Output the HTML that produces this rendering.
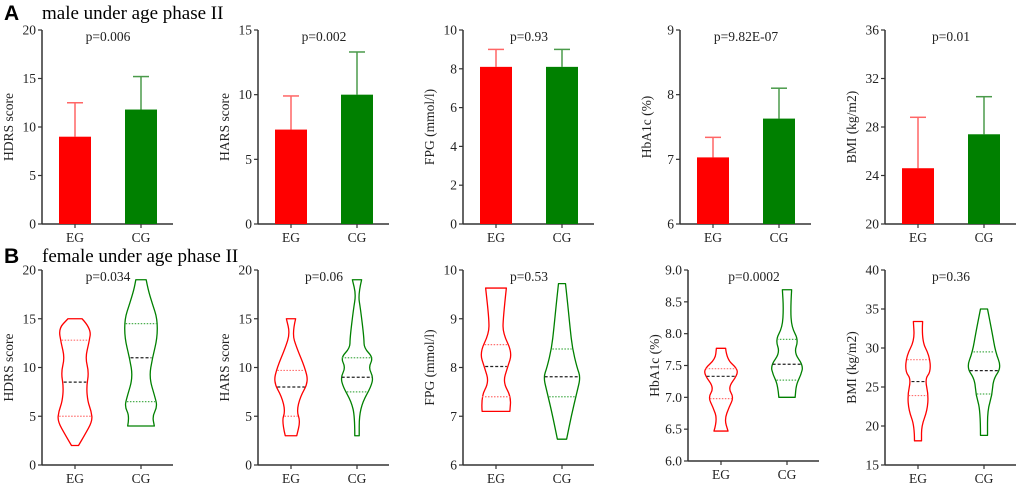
<!DOCTYPE html>
<html><head><meta charset="utf-8"><style>
body{margin:0;background:#fff}
svg{display:block}
svg text{font-family:"Liberation Serif",serif}
</style></head><body>
<svg id="fig" width="1020" height="486" viewBox="0 0 1020 486">
<text x="4" y="20" style="font-family:'Liberation Sans',sans-serif" font-weight="bold" font-size="21">A</text>
<text x="42" y="19" font-size="19">male under age phase II</text>
<text x="4" y="263" style="font-family:'Liberation Sans',sans-serif" font-weight="bold" font-size="21">B</text>
<text x="42" y="262" font-size="19">female under age phase II</text>
</svg>
<script>
const groups=["EG","CG"];
const barTitles=["HDRS score","HARS score","FPG (mmol/l)","HbA1c (%)","BMI (kg/m2)"];
const barP=["p=0.006","p=0.002","p=0.93","p=9.82E-07","p=0.01"];
const barMeans=[[9.0,11.8],[7.3,10.0],[8.1,8.1],[7.03,7.63],[24.6,27.4]];
const barErr=[[12.5,15.2],[9.9,13.3],[9.0,9.0],[7.34,8.1],[28.8,30.5]];
const barTicks=[[0,5,10,15,20],[0,5,10,15],[0,2,4,6,8,10],[6,7,8,9],[20,24,28,32,36]];
const vioTitles=["HDRS score","HARS score","FPG (mmol/l)","HbA1c (%)","BMI (kg/m2)"];
const vioP=["p=0.034","p=0.06","p=0.53","p=0.0002","p=0.36"];
const vioTicks=[[0,5,10,15,20],[0,5,10,15,20],[6,7,8,9,10],["6.0","6.5","7.0","7.5","8.0","8.5","9.0"],[15,20,25,30,35,40]];
// violin profiles: [value, relative density]
const vioEG=[
[[15,.38],[14,.88],[12.5,.75],[11,.56],[9.5,.75],[8,.62],[6.5,.69],[5.5,.88],[4.5,.94],[3,.5],[2,.19]],
[[15,.25],[13.5,.06],[12,.31],[10,.75],[8.5,.94],[7,.5],[5.5,.31],[4.5,.5],[3,.31]],
[[9.63,.56],[9,.38],[8.7,.38],[8.3,.88],[8,.62],[7.7,.38],[7.4,.81],[7.1,.75]],
[[7.77,.25],[7.6,.31],[7.45,.88],[7.35,.88],[7.15,.38],[7.0,.69],[6.85,.44],[6.65,.19],[6.47,.38]],
[[33.4,.25],[31,.19],[29,.62],[27,.69],[26,.38],[24,.56],[22,.5],[20,.19],[18.1,.19]]];
const vioCG=[
[[19,.28],[18,.38],[16.5,.62],[15,.88],[13,.88],[11,.62],[9,.44],[7,.75],[6,.88],[5,.62],[4,.72]],
[[19,.25],[17.5,.06],[16,.19],[13,.38],[12,.38],[11,.88],[10,.62],[9,.88],[8,.75],[6.5,.31],[5,.12],[3,.12]],
[[9.72,.19],[9.3,.31],[8.8,.44],[8.4,.56],[8,.81],[7.8,1],[7.5,.81],[7,.5],[6.53,.25]],
[[8.69,.25],[8.4,.19],[8.1,.25],[7.9,.62],[7.7,.38],[7.5,.88],[7.35,.75],[7.2,.5],[7.0,.44]],
[[35,.19],[32,.44],[29.5,.62],[27.5,.94],[26,.5],[24,.44],[22,.19],[18.8,.19]]];
const vioQ=[[[12.8,8.5,5],[14.5,11,6.5]],[[9.7,8,5],[11,9,7.5]],[[8.47,8.02,7.4],[8.38,7.81,7.4]],[[7.45,7.33,6.98],[7.91,7.52,7.27]],[[28.5,25.7,23.9],[29.5,27.1,24.1]]];

const NS="http://www.w3.org/2000/svg";
const svg=document.getElementById('fig');
function mk(tag,attrs,parent){const e=document.createElementNS(NS,tag);for(const k in attrs)e.setAttribute(k,attrs[k]);(parent||svg).appendChild(e);return e;}
const axisXTop=[42,258,463,680,885];
const axisXBot=[42,258,463,688,885];
const red="#ff0000",green="#008000",redL="#ff6666",greenL="#4a9a4a";
function axes(g,ax,top,bot,ticks,title,p){
  const lo=+ticks[0],hi=+ticks[ticks.length-1];
  const y=v=>bot-(v-lo)/(hi-lo)*(bot-top);
  const yl=mk('line',{x1:ax,y1:top,x2:ax,y2:bot,stroke:"#333","stroke-width":1.5},g);
  
  const xl=mk('line',{x1:ax,y1:bot,x2:ax+131,y2:bot,stroke:"#333","stroke-width":1.5},g);
  
  ticks.forEach(t=>{mk('line',{x1:ax-4,y1:y(+t),x2:ax,y2:y(+t),stroke:"#333","stroke-width":1.2},g);
    const tx=mk('text',{x:ax-6,y:y(+t)+4.5,"text-anchor":"end","font-size":13.5,fill:"#222"},g);tx.textContent=t;
    });
  groups.forEach((gname,i)=>{const cx=ax+33+66*i;
    mk('line',{x1:cx,y1:bot,x2:cx,y2:bot+4,stroke:"#333","stroke-width":1.2},g);
    const tx=mk('text',{x:cx,y:bot+18,"text-anchor":"middle","font-size":13.5,fill:"#222"},g);tx.textContent=gname;
    });
  const yt=mk('text',{x:0,y:0,"text-anchor":"middle","font-size":13.5,fill:"#222",transform:`translate(${ax-29},${(top+bot)/2}) rotate(-90)`},g);
  yt.textContent=title;
  const pt=mk('text',{x:ax+66,y:top+11,"text-anchor":"middle","font-size":13.5,fill:"#222"},g);
  pt.textContent=p;
  return y;
}
for(let k=0;k<5;k++){
  const g=mk('g',{});
  const ax=axisXTop[k];
  const y=axes(g,ax,30,224,barTicks[k],barTitles[k],barP[k]);
  groups.forEach((gn,i)=>{const cx=ax+33+66*i;const col=i?green:red;const lc=i?greenL:redL;
    const ym=y(barMeans[k][i]),ye=y(barErr[k][i]);
    const el=mk('line',{x1:cx,y1:ym,x2:cx,y2:ye,stroke:lc,"stroke-width":1.5},g);
    
    const cap=mk('line',{x1:cx-8,y1:ye,x2:cx+8,y2:ye,stroke:lc,"stroke-width":1.5},g);
    
    const r=mk('rect',{x:cx-16,y:ym,width:32,height:224-ym,fill:col},g);
    
  });
}
function smoothSeg(pts){ // continuation path from pts[0]
  let d='';
  for(let i=1;i<pts.length-1;i++){const mx=(pts[i][0]+pts[i+1][0])/2,my=(pts[i][1]+pts[i+1][1])/2;d+=` Q${pts[i][0]},${pts[i][1]} ${mx},${my}`;}
  const l=pts[pts.length-1];d+=` L${l[0]},${l[1]}`;return d;}
for(let k=0;k<5;k++){
  const g=mk('g',{});
  const ax=axisXBot[k];const bot=k===3?461:465;const top=270;
  const y=axes(g,ax,top,bot,vioTicks[k],vioTitles[k],vioP[k]);
  [vioEG[k],vioCG[k]].forEach((prof,i)=>{const cx=ax+33+66*i;const col=i?green:red;const lc=i?"#4caf50":"#ff7070";
    const W=18.5;
    const right=prof.map(p=>[cx+p[1]*W,y(p[0])]);
    const left=prof.map(p=>[cx-p[1]*W,y(p[0])]).reverse();
    const f=prof[0];
    let d=`M${cx-f[1]*W},${y(f[0])} L${right[0][0]},${right[0][1]}`+smoothSeg(right)+` L${left[0][0]},${left[0][1]}`+smoothSeg(left)+' Z';
    const v=mk('path',{d:d,fill:"none",stroke:col,"stroke-width":1.3,"stroke-linejoin":"round"},g);
    
    const wAt=val=>{for(let j=0;j<prof.length-1;j++){const a=prof[j],b=prof[j+1];if(val<=a[0]&&val>=b[0]){const t=(a[0]-val)/(a[0]-b[0]);return (a[1]+(b[1]-a[1])*t)*W;}}return 5;};
    vioQ[k][i].forEach((q,j)=>{const w=wAt(q)-1;
      const ql=mk('line',{x1:cx-w,y1:y(q),x2:cx+w,y2:y(q),stroke:j===1?"#222":lc,"stroke-width":1.2,"stroke-dasharray":j===1?"3,2":"1.5,1.5"},g);
      });
  });
}
</script>
</body></html>
